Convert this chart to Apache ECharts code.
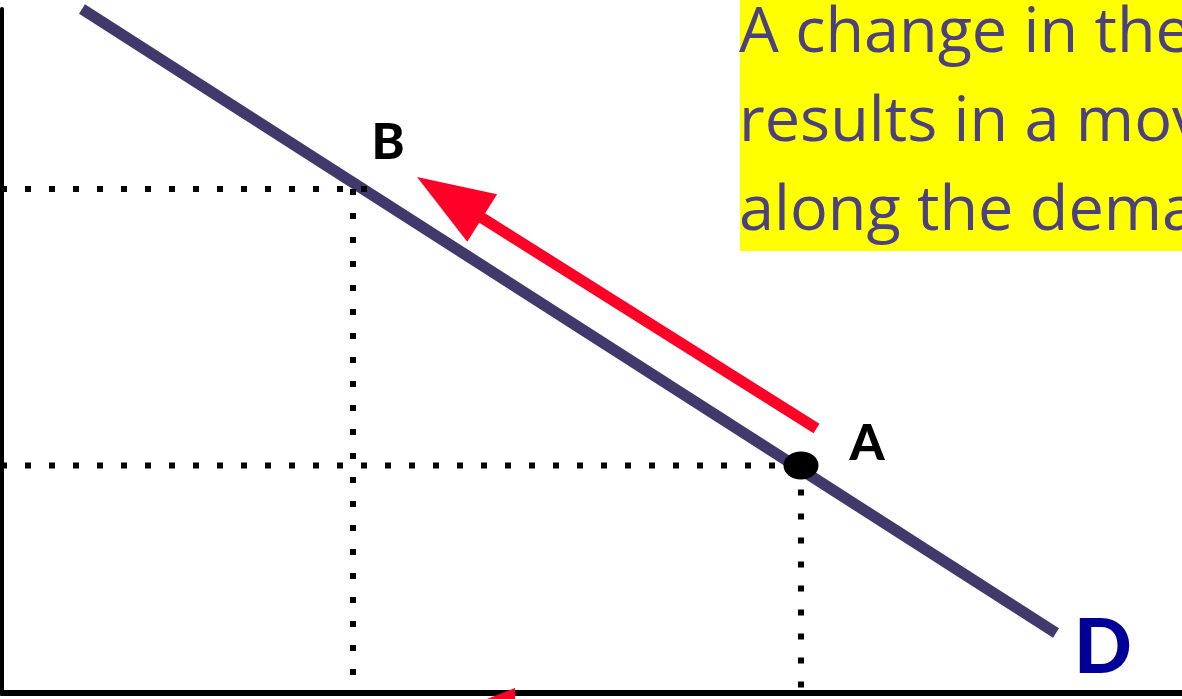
<!DOCTYPE html>
<html>
<head>
<meta charset="utf-8">
<script src="https://cdn.jsdelivr.net/npm/echarts@6/dist/echarts.min.js"></script>
<style>
  html, body { margin: 0; padding: 0; background: #fff; }
  #chart { width: 1182px; height: 699px; }
</style>
</head>
<body>
<div id="chart"></div>
<script>
// Demand curve: [quantity, price] at its two ends
const demandCurve = [[8.0, 68.4], [105.4, 6.0]];
// Points on the curve
const pointA = [79.9, 22.75];
const pointB = [35.1, 50.4];
const curveEnd = [105.4, 6.0];
// Movement along the curve: from A towards B (tail, head centre)
const arrowTail = [81.45, 26.45];
const arrowHead = [44.76, 49.55];
// Sliver of a red shape at the bottom edge
const redWedge = [[48.5, -0.6], [51.3, 0.5], [51.3, -0.6]];
// Caption lines
const captionLines = ['A change in the price', 'results in a movement', 'along the demand curve'];

const RED = '#FF0026';
const CURVE = '#41386B';
const TEXT = '#4B4180';

function guide(from, to) {
  return {
    type: 'line', data: [from, to], symbol: 'none', silent: true, clip: false, z: 3,
    lineStyle: { color: '#000', width: 6, type: [6, 18], cap: 'butt' }
  };
}

function pointLabel(text, offset, color, size) {
  return {
    show: true, formatter: text, position: 'inside', offset: offset, opacity: 1,
    color: color, fontFamily: 'Lato', fontWeight: 900, fontSize: size
  };
}

const chart = echarts.init(document.getElementById('chart'));
chart.setOption({
  animation: false,
  backgroundColor: '#fff',
  grid: { left: 2, right: 0, top: 9, bottom: 6 },
  xAxis: {
    type: 'value', min: 0, max: 118,
    axisLine: { show: true, lineStyle: { color: '#000', width: 6 } },
    axisTick: { show: false }, axisLabel: { show: false }, splitLine: { show: false }
  },
  yAxis: {
    type: 'value', min: 0, max: 68.4,
    axisLine: { show: true, lineStyle: { color: '#000', width: 4 } },
    axisTick: { show: false }, axisLabel: { show: false }, splitLine: { show: false }
  },
  graphic: [
    { type: 'rect', shape: { x: 740, y: 0, width: 450, height: 251 }, style: { fill: '#FFFF00' }, z: 1 },
    ...captionLines.map((t, i) => ({
      type: 'text', x: 739, y: 34 + i * 89, z: 2,
      style: { text: t, fill: TEXT, font: '63px "Open Sans"', verticalAlign: 'middle', align: 'left' }
    }))
  ],
  series: [
    {
      type: 'line', data: demandCurve, symbol: 'none', silent: true, clip: false, z: 2,
      lineStyle: { color: CURVE, width: 11, cap: 'butt' },
      markLine: {
        silent: true, animation: false,
        label: { show: false },
        lineStyle: { color: RED, width: 11, type: 'solid', cap: 'butt', opacity: 1 },
        data: [[
          { coord: arrowTail, symbol: 'none' },
          { coord: arrowHead, symbol: 'triangle', symbolSize: [56, 77] }
        ]]
      }
    },
    guide([-0.1, pointB[1]], [36.6, pointB[1]]),
    guide(pointB, [pointB[0], 0]),
    guide([-0.1, pointA[1]], pointA),
    guide(pointA, [pointA[0], 0]),
    {
      type: 'custom', silent: true, z: 4, data: [0],
      renderItem: (params, api) => ({
        type: 'polygon',
        shape: { points: redWedge.map(p => api.coord(p)) },
        style: { fill: RED }
      })
    },
    {
      type: 'scatter', silent: true, z: 5, clip: false,
      itemStyle: { opacity: 1 },
      data: [
        {
          value: pointA, symbol: 'circle', symbolSize: [35, 28], itemStyle: { color: '#000', opacity: 1 },
          label: pointLabel('A', [66, -22], '#000', 50)
        },
        {
          value: pointB, symbolSize: 0,
          label: pointLabel('B', [35, -46], '#000', 50)
        },
        {
          value: curveEnd, symbolSize: 0,
          label: pointLabel('D', [47, 15], '#000099', 76)
        }
      ]
    }
  ]
});
</script>
</body>
</html>
